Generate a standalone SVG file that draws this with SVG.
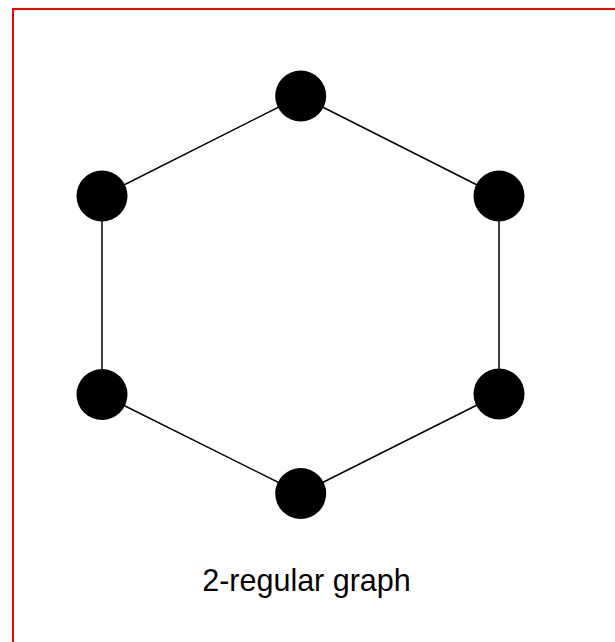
<svg xmlns="http://www.w3.org/2000/svg" width="615" height="642" viewBox="0 0 615 642">
<style>
.node{fill:#000}
.edge{stroke:#000;stroke-width:1.5;fill:none}
.label{font-family:"Liberation Sans",Arial,sans-serif;font-size:30.5px;fill:#000}
</style>
<rect x="0" y="0" width="615" height="642" fill="#fff"/>
<rect x="13" y="9" width="620" height="650" fill="none" stroke="#ff0000" stroke-width="2"/>
<g id="edges">
<line class="edge" x1="300.7" y1="96" x2="102" y2="196"/>
<line class="edge" x1="300.7" y1="96" x2="499" y2="196"/>
<line class="edge" x1="102" y1="196" x2="102" y2="394.5"/>
<line class="edge" x1="499" y1="196" x2="499" y2="394"/>
<line class="edge" x1="102" y1="394.5" x2="300.7" y2="493.5"/>
<line class="edge" x1="499" y1="394" x2="300.7" y2="493.5"/>
</g>
<g id="n1"><circle class="node" cx="300.7" cy="96" r="25.5"/></g>
<g id="n2"><circle class="node" cx="102" cy="196" r="25.5"/></g>
<g id="n3"><circle class="node" cx="499" cy="196" r="25.5"/></g>
<g id="n4"><circle class="node" cx="102" cy="394.5" r="25.5"/></g>
<g id="n5"><circle class="node" cx="499" cy="394" r="25.5"/></g>
<g id="n6"><circle class="node" cx="300.7" cy="493.5" r="25.5"/></g>
<text class="label" x="306.5" y="591" text-anchor="middle">2-regular graph</text>
</svg>
